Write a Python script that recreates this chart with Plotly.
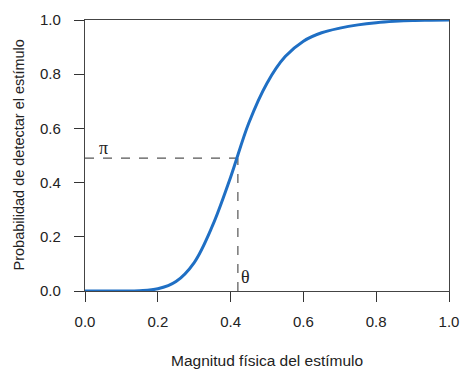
import plotly.graph_objects as go

# Curve
stim = [0.0, 0.05, 0.1, 0.15, 0.2, 0.25, 0.3, 0.35, 0.4, 0.45, 0.5, 0.55, 0.6,
        0.65, 0.7, 0.75, 0.8, 0.85, 0.9, 0.95, 1.0]
prob = [0.0, 0.0, 0.0, 0.001, 0.008, 0.035, 0.105, 0.24, 0.42, 0.62, 0.767, 0.865,
        0.922, 0.953, 0.970, 0.982, 0.990, 0.995, 0.998, 0.999, 1.0]

theta = 0.42
pi_val = 0.49
tick_vals = [0.0, 0.2, 0.4, 0.6, 0.8, 1.0]
tick_text = ["0.0", "0.2", "0.4", "0.6", "0.8", "1.0"]

SANS = "Liberation Sans, Arial, sans-serif"
SERIF = "Liberation Serif, Times New Roman, serif"

fig = go.Figure()
fig.add_trace(go.Scatter(x=[0, theta], y=[pi_val, pi_val], mode="lines",
                         line=dict(color="#555555", width=1.2, dash="dash"),
                         hoverinfo="skip", showlegend=False))
fig.add_trace(go.Scatter(x=[theta, theta], y=[0, pi_val], mode="lines",
                         line=dict(color="#555555", width=1.2, dash="dash"),
                         hoverinfo="skip", showlegend=False))
fig.add_trace(go.Scatter(x=stim, y=prob, mode="lines",
                         line=dict(color="#1f6fc4", width=3, shape="spline", smoothing=1.0),
                         showlegend=False))

fig.add_annotation(x=0.05, y=pi_val, text="π", showarrow=False,
                   xanchor="center", yanchor="bottom", yshift=-2,
                   font=dict(family=SERIF, size=18, color="#222"))
fig.add_annotation(x=theta, y=0.0, text="θ", showarrow=False,
                   xanchor="left", yanchor="bottom", xshift=1, yshift=2,
                   font=dict(family=SERIF, size=18, color="#222"))

# Axis titles as annotations for exact placement
fig.add_annotation(xref="paper", yref="paper", x=0.5, y=0, yshift=-69,
                   text="Magnitud física del estímulo", showarrow=False,
                   xanchor="center", yanchor="middle",
                   font=dict(family=SANS, size=15.5, color="#222"))
fig.add_annotation(xref="paper", yref="paper", x=0, y=0.5, xshift=-67,
                   text="Probabilidad de detectar el estímulo", showarrow=False,
                   textangle=-90, xanchor="center", yanchor="middle",
                   font=dict(family=SANS, size=14.5, color="#222"))

axis_common = dict(
    range=[0, 1], tickvals=tick_vals, ticktext=tick_text,
    ticks="outside", ticklen=10, tickwidth=1, tickcolor="#333",
    showgrid=False, zeroline=False, showline=True, linecolor="#444", linewidth=1.2,
    mirror=True, automargin=False,
    tickfont=dict(family=SANS, size=15, color="#222"),
)

fig.update_xaxes(**axis_common, ticklabelstandoff=7)
fig.update_yaxes(**axis_common, ticklabelstandoff=10)

fig.update_layout(
    width=461, height=370,
    margin=dict(l=85, r=12, t=20, b=79),
    plot_bgcolor="white", paper_bgcolor="white",
)

fig.write_html("out.html", config={"displayModeBar": False},
               post_script="document.body.style.margin='0';document.body.style.padding='0';")
